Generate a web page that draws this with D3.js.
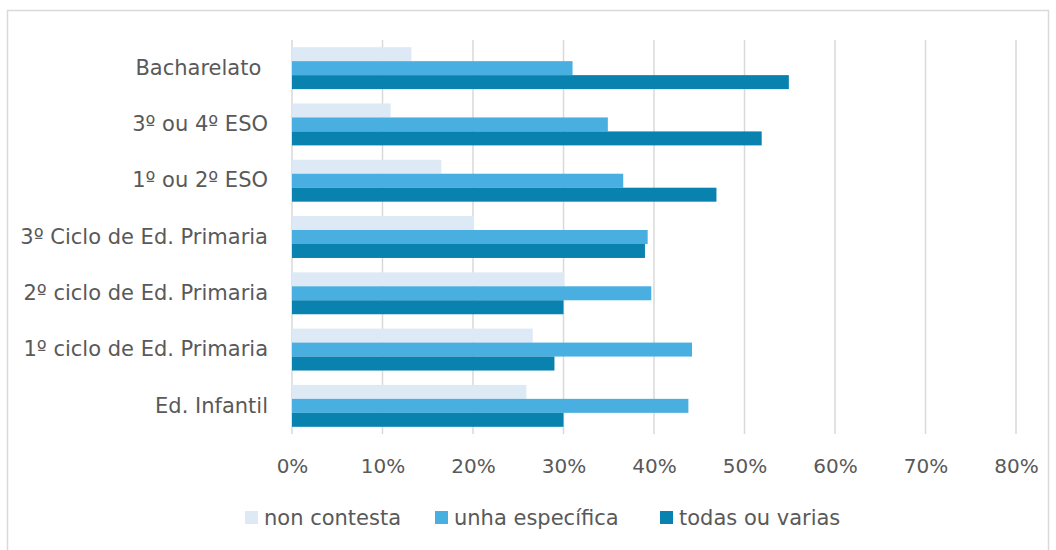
<!DOCTYPE html>
<html><head><meta charset="utf-8">
<script src="https://cdn.jsdelivr.net/npm/d3@7"></script>
<style>body{margin:0;background:#fff}svg{display:block}text{white-space:pre}</style>
</head><body><svg id="c" width="1056" height="550"></svg>
<script>
const categories = ["Bacharelato ","3º ou 4º ESO","1º ou 2º ESO","3º Ciclo de Ed. Primaria","2º ciclo de Ed. Primaria","1º ciclo de Ed. Primaria","Ed. Infantil"];
const seriesNames = ["non contesta","unha específica","todas ou varias"];
const nonContesta = [13.2, 10.9, 16.5, 20.1, 30.1, 26.6, 25.9];
const unhaEspecifica = [31.0, 34.9, 36.6, 39.3, 39.7, 44.2, 43.8];
const todasOuVarias = [54.9, 51.9, 46.9, 39.0, 30.0, 29.0, 30.0];
const tickValues = [0,10,20,30,40,50,60,70,80];
const colors = ["#DDEAF6","#48AFE0","#0A82B0"];
const seriesData = [nonContesta, unhaEspecifica, todasOuVarias];

const svg = d3.select("#c");
const font = "'DejaVu Sans', sans-serif";
svg.append("rect").attr("x",7.5).attr("y",10.5).attr("width",1041).attr("height",545)
  .attr("fill","#fff").attr("stroke","#d9d9d9").attr("stroke-width",1.5);

const x = d3.scaleLinear().domain([0,80]).range([292,1016]);
const y = d3.scaleBand().domain(categories).range([40,434]).paddingInner(0.255).paddingOuter(0.1275);
const yi = d3.scaleBand().domain(seriesNames).range([0,y.bandwidth()]);

svg.append("g").selectAll("line").data(tickValues).join("line")
  .attr("x1",d=>x(d)).attr("x2",d=>x(d)).attr("y1",40).attr("y2",434)
  .attr("stroke","#d9d9d9").attr("stroke-width",1.5);

const g = svg.append("g");
seriesNames.forEach((s,si)=>{
  g.selectAll(null).data(categories).join("rect")
    .attr("x",x(0)).attr("y",c=>y(c)+yi(s))
    .attr("width",(c,i)=>x(seriesData[si][i])-x(0))
    .attr("height",yi.bandwidth())
    .attr("fill",colors[si]);
});

const xa = d3.axisBottom(x).tickValues(tickValues).tickFormat(d=>d+"%").tickSize(0).tickPadding(0);
const xg = svg.append("g").attr("transform","translate(0,473)").call(xa);
xg.select(".domain").remove();
xg.selectAll("text").attr("font-family",font).attr("font-size",20).attr("fill","#595959").attr("dy",0);

const ya = d3.axisLeft(y).tickSize(0).tickPadding(0);
const yg = svg.append("g").attr("transform","translate(268,0)").call(ya);
yg.select(".domain").remove();
yg.selectAll("text").attr("font-family",font).attr("font-size",21).attr("fill","#595959");

const legX = [245,435,660];
const lg = svg.append("g");
seriesNames.forEach((s,i)=>{
  lg.append("rect").attr("x",legX[i]).attr("y",511).attr("width",13).attr("height",13).attr("fill",colors[i]);
  lg.append("text").attr("x",legX[i]+19).attr("y",525).text(s)
    .attr("font-family",font).attr("font-size",21).attr("fill","#595959");
});
</script></body></html>
